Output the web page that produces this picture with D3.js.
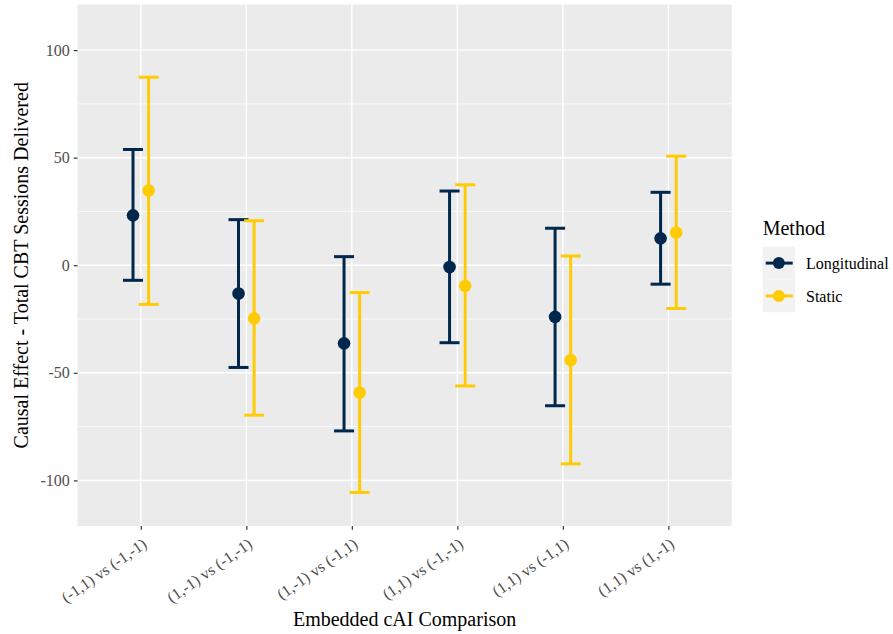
<!DOCTYPE html>
<html>
<head>
<meta charset="utf-8">
<script src="https://cdn.jsdelivr.net/npm/d3@7"></script>
<style>
  body { margin: 0; background: #fff; }
  svg text { font-family: "Liberation Serif", "Times New Roman", serif; }
</style>
</head>
<body>
<div id="chart"></div>
<script>
// Data
const comparisons = ["(-1,1) vs (-1,-1)", "(1,-1) vs (-1,-1)", "(1,-1) vs (-1,1)",
                     "(1,1) vs (-1,-1)", "(1,1) vs (-1,1)", "(1,1) vs (1,-1)"];
const methods = ["Longitudinal", "Static"];
const longEst = [23.2, -13.1, -36.3, -0.8, -24.0, 12.5];
const longLow = [-7.0, -47.5, -77.0, -36.0, -65.3, -8.8];
const longHigh = [53.8, 21.2, 4.0, 34.5, 17.2, 33.9];
const staticEst = [34.7, -24.7, -59.2, -9.6, -44.1, 15.2];
const staticLow = [-18.2, -69.7, -105.6, -56.1, -92.3, -20.1];
const staticHigh = [87.4, 20.7, -12.7, 37.4, 4.3, 50.7];
const yTicks = [-100, -50, 0, 50, 100];
const yMinor = [-75, -25, 25, 75];

const colors = {Longitudinal: "#00274C", Static: "#FFCB05"};
const serif = "'Liberation Serif', 'Times New Roman', serif";

const rows = [];
comparisons.forEach((c, i) => {
    rows.push({comp: c, method: "Longitudinal", est: longEst[i], lo: longLow[i], hi: longHigh[i]});
    rows.push({comp: c, method: "Static", est: staticEst[i], lo: staticLow[i], hi: staticHigh[i]});
});

const W = 893, H = 634;
const margin = {top: 4.5, right: 161.3, bottom: 108, left: 77.5},
    width = W - margin.left - margin.right,
    height = H - margin.top - margin.bottom;

const svg = d3.select("#chart")
    .append("svg")
    .attr("width", W)
    .attr("height", H)
    .attr("font-family", serif);

const g = svg.append("g")
    .attr("transform", `translate(${margin.left},${margin.top})`);

// Scales
const x = d3.scalePoint()
    .domain(comparisons)
    .range([0, width])
    .padding(0.6);

const dodge = d3.scalePoint()
    .domain(methods)
    .range([-7.8, 7.8]);

const y = d3.scaleLinear()
    .domain([-121.2, 121.2])
    .range([height, 0]);

// Panel background
g.append("rect")
    .attr("width", width)
    .attr("height", height)
    .attr("fill", "#EBEBEB");

// Grid
g.selectAll(".minor")
    .data(yMinor)
    .join("line")
    .attr("x1", 0).attr("x2", width)
    .attr("y1", d => y(d)).attr("y2", d => y(d))
    .attr("stroke", "#fff").attr("stroke-width", 0.7);

g.selectAll(".majorY")
    .data(yTicks)
    .join("line")
    .attr("x1", 0).attr("x2", width)
    .attr("y1", d => y(d)).attr("y2", d => y(d))
    .attr("stroke", "#fff").attr("stroke-width", 1.4);

g.selectAll(".majorX")
    .data(comparisons)
    .join("line")
    .attr("x1", d => x(d)).attr("x2", d => x(d))
    .attr("y1", 0).attr("y2", height)
    .attr("stroke", "#fff").attr("stroke-width", 1.4);

// Y axis (plain hyphen minus like the original)
const yAxis = g.append("g")
    .call(d3.axisLeft(y).tickValues(yTicks).tickFormat(d => String(d)).tickSize(3.7).tickPadding(4))
    .attr("font-family", serif)
    .attr("font-size", 16);
yAxis.select(".domain").remove();
yAxis.selectAll(".tick line").attr("stroke", "#333333").attr("stroke-width", 1.2);
yAxis.selectAll(".tick text").attr("fill", "#4D4D4D");

// X axis
const xAxis = g.append("g")
    .attr("transform", `translate(0,${height})`)
    .call(d3.axisBottom(x).tickSize(3.7).tickPadding(0))
    .attr("font-family", serif)
    .attr("font-size", 16);
xAxis.select(".domain").remove();
xAxis.selectAll(".tick line").attr("stroke", "#333333").attr("stroke-width", 1.2);
xAxis.selectAll(".tick text")
    .attr("fill", "#4D4D4D")
    .attr("text-anchor", "end")
    .attr("x", 0)
    .attr("y", 0)
    .attr("dy", "0.71em")
    .attr("transform", "translate(0,11) rotate(-35)");

// Error bars
const bars = g.selectAll(".bar")
    .data(rows)
    .join("g")
    .attr("transform", d => `translate(${x(d.comp) + dodge(d.method)},0)`);

const capW = 10;
bars.append("line")
    .attr("y1", d => y(d.lo)).attr("y2", d => y(d.hi))
    .attr("stroke", d => colors[d.method]).attr("stroke-width", 3);
bars.append("line")
    .attr("x1", -capW).attr("x2", capW)
    .attr("y1", d => y(d.hi)).attr("y2", d => y(d.hi))
    .attr("stroke", d => colors[d.method]).attr("stroke-width", 3);
bars.append("line")
    .attr("x1", -capW).attr("x2", capW)
    .attr("y1", d => y(d.lo)).attr("y2", d => y(d.lo))
    .attr("stroke", d => colors[d.method]).attr("stroke-width", 3);
bars.append("circle")
    .attr("cy", d => y(d.est))
    .attr("r", 6.3)
    .attr("fill", d => colors[d.method]);

// Axis titles
svg.append("text")
    .attr("x", margin.left + width / 2)
    .attr("y", 626)
    .attr("text-anchor", "middle")
    .attr("font-size", 20)
    .text("Embedded cAI Comparison");

svg.append("text")
    .attr("transform", `translate(28,${margin.top + height / 2}) rotate(-90)`)
    .attr("text-anchor", "middle")
    .attr("font-size", 20)
    .text("Causal Effect - Total CBT Sessions Delivered");

// Legend
const legend = svg.append("g").attr("transform", "translate(762.7,0)");
legend.append("text")
    .attr("x", 0).attr("y", 235)
    .attr("font-size", 20)
    .text("Method");

const keys = legend.selectAll(".key")
    .data(methods)
    .join("g")
    .attr("transform", (d, i) => `translate(0,${246.7 + i * 32.8})`);
keys.append("rect")
    .attr("width", 32.3).attr("height", 32.8)
    .attr("fill", "#F2F2F2");
keys.append("line")
    .attr("x1", 3).attr("x2", 30)
    .attr("y1", 16.4).attr("y2", 16.4)
    .attr("stroke", d => colors[d]).attr("stroke-width", 3);
keys.append("circle")
    .attr("cx", 16.15).attr("cy", 16.4).attr("r", 6)
    .attr("fill", d => colors[d]);
keys.append("text")
    .attr("x", 43.3).attr("y", 16.4)
    .attr("dy", "0.35em")
    .attr("font-size", 16)
    .text(d => d);
</script>
</body>
</html>
